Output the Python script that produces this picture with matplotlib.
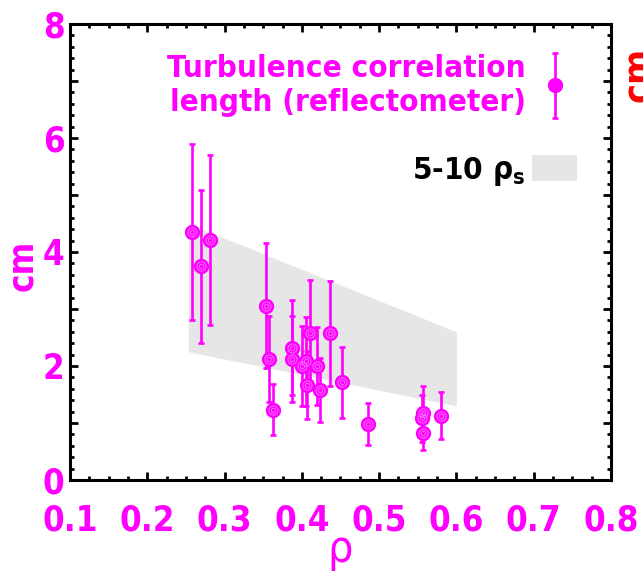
import numpy as np
import matplotlib.pyplot as plt
from matplotlib.patches import Patch
from matplotlib.ticker import MultipleLocator, FuncFormatter
from matplotlib.legend_handler import HandlerErrorbar

# data
rho = [0.258, 0.270, 0.281, 0.353, 0.357, 0.363, 0.387, 0.387, 0.400, 0.405, 0.407,
       0.411, 0.420, 0.423, 0.437, 0.452, 0.485, 0.555, 0.557, 0.557, 0.580]
corr_len = [4.35, 3.75, 4.21, 3.06, 2.12, 1.23, 2.32, 2.12, 2.00, 2.08, 1.67,
            2.58, 2.00, 1.58, 2.57, 1.71, 0.98, 1.08, 1.18, 0.83, 1.13]
corr_err = [1.54, 1.34, 1.50, 1.10, 0.76, 0.45, 0.83, 0.76, 0.70, 0.78, 0.60,
            0.92, 0.68, 0.56, 0.92, 0.62, 0.37, 0.41, 0.47, 0.30, 0.42]

# 5-10 rho_s band
band_rho = [0.253, 0.600]
band_lo = [2.25, 1.30]
band_hi = [4.50, 2.60]

x_ticks = [0.1, 0.2, 0.3, 0.4, 0.5, 0.6, 0.7, 0.8]
y_ticks = [0, 1, 2, 3, 4, 5, 6, 7, 8]

plt.rcParams['font.family'] = ['DejaVu Sans']
plt.rcParams['font.stretch'] = 'condensed'
plt.rcParams['mathtext.fontset'] = 'dejavusans'

MAG = '#ff00ff'

fig = plt.figure(figsize=(6.43, 5.72), dpi=100)
ax = fig.add_axes([0.109, 0.161, 0.841, 0.797])

ax.fill_between(band_rho, band_lo, band_hi, color='#e6e6e6', lw=0, zorder=1)

eb = ax.errorbar(rho, corr_len, yerr=corr_err, fmt='o', color=MAG, ms=10,
                 elinewidth=1.9, capsize=2.3, capthick=1.9, zorder=3)
ax.plot(rho, corr_len, 'o', ms=6.5, mfc='none', mec='#ff70ff', mew=0.7, zorder=4)
ax.plot(rho, corr_len, 'o', ms=3.2, mfc='none', mec='#ff70ff', mew=0.6, zorder=4)

ax.set_xlim(0.1, 0.8)
ax.set_ylim(0, 8)
ax.set_xticks(x_ticks)
ax.set_yticks(y_ticks)
ax.xaxis.set_minor_locator(MultipleLocator(0.025))
ax.yaxis.set_minor_locator(MultipleLocator(0.2))
ax.xaxis.set_major_formatter(FuncFormatter(lambda v, p: f'{v:.1f}'))
ax.yaxis.set_major_formatter(FuncFormatter(lambda v, p: f'{int(round(v))}' if round(v) % 2 == 0 else ''))

ax.tick_params(which='both', direction='in', top=True, right=True, width=2, colors='black',
               labelcolor=MAG, labelsize=25)
ax.tick_params(which='major', length=6)
ax.tick_params(which='minor', length=3)
ax.tick_params(axis='x', which='major', pad=17)
ax.tick_params(axis='y', which='major', pad=4)
for lab in ax.get_xticklabels() + ax.get_yticklabels():
    lab.set_fontweight('bold')
for s in ax.spines.values():
    s.set_linewidth(2.2)

ax.set_ylabel('cm', color=MAG, fontsize=25, fontweight='bold')
ax.yaxis.set_label_coords(-0.058, 0.47)
ax.set_xlabel('ρ', color=MAG, fontsize=32, labelpad=-7)
fig.text(0.967, 0.869, 'cm', color='red', fontsize=27, fontweight='bold',
         rotation=90, ha='left', va='center')

handles = [eb, Patch(facecolor='#e6e6e6', edgecolor='none')]
labels = ['Turbulence correlation\nlength (reflectometer)', r'5-10 $\mathregular{\rho_s}$']
leg = ax.legend(handles, labels, loc='upper right', bbox_to_anchor=(0.99, 0.995),
                frameon=False, markerfirst=False, handlelength=1.45,
                handleheight=0.9, handletextpad=0.2, labelspacing=1.2,
                prop={'weight': 'bold', 'size': 22.5, 'stretch': 'condensed'},
                handler_map={type(eb): HandlerErrorbar(yerr_size=1.05)})
for t, c in zip(leg.get_texts(), [MAG, 'black']):
    t.set_color(c)
    t.set_ha('right')

fig.savefig('out.png', dpi=100)
